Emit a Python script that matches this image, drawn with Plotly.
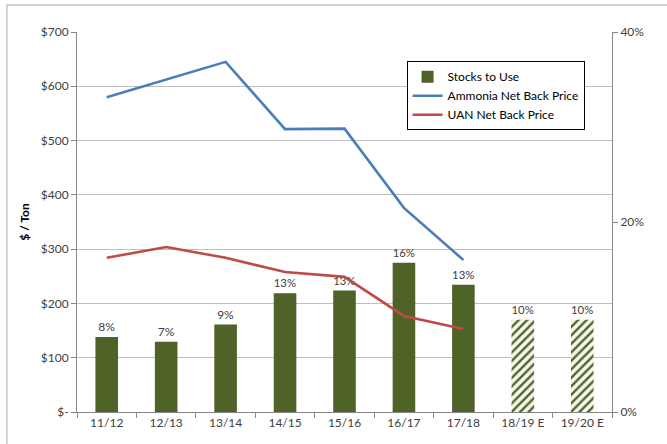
import plotly.graph_objects as go

categories = ["11/12", "12/13", "13/14", "14/15", "15/16", "16/17", "17/18", "18/19 E", "19/20 E"]
stocks_to_use = [7.9, 7.4, 9.2, 12.5, 12.8, 15.7, 13.4, 9.7, 9.7]
stocks_labels = ["8%", "7%", "9%", "13%", "13%", "16%", "13%", "10%", "10%"]
ammonia_price = [580, 613, 645, 521, 522, 376, 280, None, None]
uan_price = [284, 304, 284, 258, 249, 177, 153, None, None]
left_tickvals = [0, 100, 200, 300, 400, 500, 600, 700]
left_ticktext = ["$-", "$100", "$200", "$300", "$400", "$500", "$600", "$700"]
right_tickvals = [0, 20, 40]
right_ticktext = ["0%", "20%", "40%"]

GREEN = "#4F6228"
BLUE = "#4A7EBB"
RED = "#BE4B48"
TXT = "#404040"
FONT = "Lato, Open Sans, sans-serif"

n_est = 2
shapes_pat = [""] * (len(categories) - n_est) + ["/"] * n_est
bg_pat = [GREEN] * (len(categories) - n_est) + ["#F5F8EC"] * n_est

fig = go.Figure()
fig.add_trace(go.Bar(
    x=categories, y=stocks_to_use, name="Stocks to Use", yaxis="y",
    width=0.38,
    marker=dict(color=GREEN, line=dict(width=0),
                pattern=dict(shape=shapes_pat, fgcolor=GREEN, bgcolor=bg_pat,
                             fillmode="replace", size=6, solidity=0.4)),
    text=stocks_labels, textposition="outside", cliponaxis=False,
    textfont=dict(size=12, color=TXT, family=FONT),
))
fig.add_trace(go.Scatter(
    x=categories, y=ammonia_price, name="Ammonia Net Back Price", yaxis="y2",
    mode="lines", line=dict(color=BLUE, width=2.6),
))
fig.add_trace(go.Scatter(
    x=categories, y=uan_price, name="UAN Net Back Price", yaxis="y2",
    mode="lines", line=dict(color=RED, width=2.6),
))

fig.update_layout(
    width=667, height=444,
    margin=dict(l=77, r=55, t=32, b=32),
    paper_bgcolor="white", plot_bgcolor="white",
    font=dict(family=FONT, size=12, color=TXT),
    showlegend=True,
    legend=dict(x=0.616, y=0.923, xanchor="left", yanchor="top",
                bgcolor="white", bordercolor="#000000", borderwidth=1,
                font=dict(size=12, color="#000000", family=FONT),
                tracegroupgap=0, itemwidth=30),
    xaxis=dict(type="category", showline=True, linecolor="#868686", linewidth=1,
               ticks="outside", tickson="boundaries", ticklen=5, tickcolor="#868686",
               showgrid=False, tickfont=dict(size=12, color=TXT), automargin=False,
               range=[-0.5, len(categories) - 0.5]),
    yaxis=dict(side="right", range=[0, 40], tickvals=right_tickvals, ticktext=right_ticktext,
               showgrid=False, showline=True, linecolor="#868686", linewidth=1,
               ticks="outside", ticklen=5, tickcolor="#868686", automargin=False,
               tickfont=dict(size=12, color=TXT), zeroline=False),
    yaxis2=dict(side="left", overlaying="y", range=[0, 700], tickvals=left_tickvals,
                ticktext=left_ticktext, showgrid=True, gridcolor="#BFBFBF", gridwidth=1,
                showline=True, linecolor="#868686", linewidth=1, automargin=False,
                ticks="outside", ticklen=5, tickcolor="#868686",
                tickfont=dict(size=12, color=TXT), zeroline=False,
                title=dict(text="<b>$ / Ton</b>", font=dict(size=12, color="#000000"), standoff=8)),
    shapes=[dict(type="rect", xref="paper", yref="paper", x0=-0.131, x1=1.2, y0=-0.3, y1=1.071,
                 line=dict(color="#A6A6A6", width=1), fillcolor="rgba(0,0,0,0)", layer="below")],
)

fig.write_html("out.html", config={"displayModeBar": False},
               post_script="document.body.style.margin='0px';")
